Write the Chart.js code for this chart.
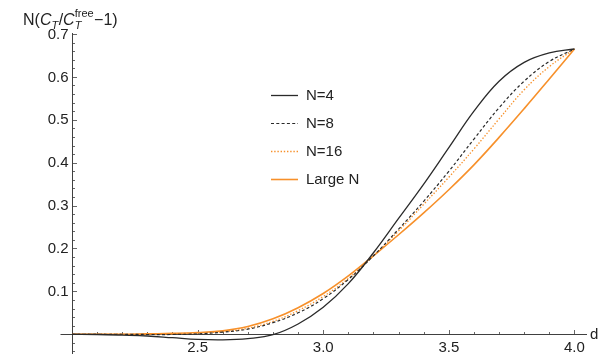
<!DOCTYPE html>
<html>
<head>
<meta charset="utf-8">
<script src="https://cdn.jsdelivr.net/npm/chart.js@4.4.1/dist/chart.umd.min.js"></script>
<style>
  html, body { margin: 0; padding: 0; background: #fff; }
  #wrap { width: 609px; height: 354px; position: relative; }
</style>
</head>
<body>
<div id="wrap"><canvas id="myChart"></canvas></div>
<script>
// separation d
const dValues = [2.0, 2.1, 2.2, 2.3, 2.4, 2.5, 2.6, 2.7, 2.8, 2.9, 3.0,
                 3.1, 3.2, 3.3, 3.4, 3.5, 3.6, 3.7, 3.8, 3.9, 4.0];

// N (C_T / C_T^free - 1)
const n4 = [0, -0.0005, -0.002, -0.004, -0.008, -0.012, -0.013, -0.010, -0.001, 0.024, 0.063,
            0.118, 0.190, 0.270, 0.350, 0.435, 0.520, 0.590, 0.634, 0.656, 0.665];
const n8 = [0, 0, 0, -0.0005, -0.0005, 0.001, 0.005, 0.012, 0.027, 0.050, 0.083,
            0.128, 0.183, 0.245, 0.310, 0.380, 0.455, 0.528, 0.590, 0.636, 0.665];
const n16 = [0, 0, 0, 0, 0.001, 0.003, 0.006, 0.014, 0.030, 0.055, 0.088,
             0.130, 0.183, 0.241, 0.303, 0.366, 0.432, 0.502, 0.570, 0.624, 0.665];
const largeN = [0, 0, 0, 0.001, 0.002, 0.004, 0.008, 0.018, 0.036, 0.062, 0.095,
                0.136, 0.183, 0.232, 0.283, 0.337, 0.395, 0.459, 0.526, 0.595, 0.665];

const seriesLabels = ['N=4', 'N=8', 'N=16', 'Large N'];
const xTickLabels = [2.5, 3.0, 3.5, 4.0];
const yTickLabels = [0.1, 0.2, 0.3, 0.4, 0.5, 0.6, 0.7];

const FONT = '"Liberation Sans", Arial, sans-serif';
const AXIS_COLOR = '#404040';
const TEXT_COLOR = '#222';
const ORANGE = '#f7902a';

const toPoints = vals => dValues.map((d, i) => ({ x: d, y: vals[i] }));

// Mathematica-style axes crossing at (2, 0), ticks pointing inward
const axesPlugin = {
    id: 'mmaAxes',
    beforeDatasetsDraw(chart) {
        const { ctx, scales: { x, y } } = chart;
        const x0 = Math.round(x.getPixelForValue(2.0)) + 0.5;
        const y0 = Math.round(y.getPixelForValue(0)) + 0.5;
        ctx.save();
        ctx.strokeStyle = AXIS_COLOR;
        ctx.lineWidth = 1;
        ctx.beginPath();
        ctx.moveTo(x0 - 12, y0);
        ctx.lineTo(x.right, y0);
        ctx.moveTo(x0, y.getPixelForValue(0.7) - 1);
        ctx.lineTo(x0, chart.height);
        ctx.stroke();

        ctx.lineWidth = 0.8;
        ctx.beginPath();
        for (let k = 21; k <= 40; k++) {
            const px = Math.round(x.getPixelForValue(k / 10)) + 0.5;
            const len = k % 5 === 0 ? 4.5 : 2.5;
            ctx.moveTo(px, y0);
            ctx.lineTo(px, y0 - len);
        }
        for (let k = -2; k <= 35; k++) {
            if (k === 0) continue;
            const py = Math.round(y.getPixelForValue(k * 0.02)) + 0.5;
            const len = k % 5 === 0 ? 4.5 : 2.5;
            ctx.moveTo(x0, py);
            ctx.lineTo(x0 + len, py);
        }
        ctx.stroke();

        ctx.fillStyle = TEXT_COLOR;
        ctx.font = '15px ' + FONT;
        ctx.textAlign = 'center';
        ctx.textBaseline = 'top';
        xTickLabels.forEach(v => {
            ctx.fillText(v.toFixed(1), x.getPixelForValue(v), y0 + 6);
        });
        ctx.textAlign = 'right';
        ctx.textBaseline = 'middle';
        yTickLabels.forEach(v => {
            ctx.fillText(v.toFixed(1), x0 - 4, y.getPixelForValue(v) + 0.5);
        });

        // axis labels
        ctx.textAlign = 'left';
        ctx.textBaseline = 'alphabetic';
        ctx.fillText('d', 590, 339);

        let cx = 23;
        const base = 25;
        const put = (txt, font, dy) => {
            ctx.font = font;
            ctx.fillText(txt, cx, base + dy);
            return ctx.measureText(txt).width;
        };
        const big = '16px ' + FONT;
        const bigI = 'italic 16px ' + FONT;
        const small = '11px ' + FONT;
        const smallI = 'italic 11px ' + FONT;
        cx += put('N(', big, 0);
        cx += put('C', bigI, 0);
        cx += put('T', smallI, 4) + 0.5;
        cx += put('/', big, 0);
        cx += put('C', bigI, 0);
        const tw = put('T', smallI, 4);
        const fw = put('free', small, -8);
        cx += Math.max(tw, fw) + 0.5;
        cx += put('\u2212', big, 0);
        put('1)', big, 0);
        ctx.restore();
    },
    afterDraw(chart) {
        const { ctx } = chart;
        const rows = [95, 123, 151, 179];
        ctx.save();
        ctx.font = '15px ' + FONT;
        ctx.textBaseline = 'middle';
        ctx.textAlign = 'left';
        chart.data.datasets.forEach((ds, i) => {
            const yy = rows[i] + 0.5;
            ctx.strokeStyle = ds.borderColor;
            ctx.lineWidth = ds.borderWidth;
            ctx.setLineDash(ds.borderDash || []);
            ctx.beginPath();
            ctx.moveTo(271, yy);
            ctx.lineTo(298, yy);
            ctx.stroke();
            ctx.setLineDash([]);
            ctx.fillStyle = TEXT_COLOR;
            ctx.fillText(ds.label, 306, yy);
        });
        ctx.restore();
    }
};

const container = document.getElementById('myChart');

new Chart(container, {
    type: 'line',
    data: {
        datasets: [
            { label: seriesLabels[0], data: toPoints(n4), borderColor: '#2a2a2a', borderWidth: 1.3 },
            { label: seriesLabels[1], data: toPoints(n8), borderColor: '#2a2a2a', borderWidth: 1.2, borderDash: [3, 2.3] },
            { label: seriesLabels[2], data: toPoints(n16), borderColor: ORANGE, borderWidth: 1.3, borderDash: [1.4, 1.8] },
            { label: seriesLabels[3], data: toPoints(largeN), borderColor: ORANGE, borderWidth: 1.6 }
        ]
    },
    options: {
        responsive: true,
        maintainAspectRatio: false,
        animation: false,
        layout: { padding: { left: 72, right: 22, top: 34, bottom: 0 } },
        elements: {
            point: { radius: 0 },
            line: { tension: 0.4, fill: false }
        },
        scales: {
            x: { type: 'linear', min: 2.0, max: 4.05, display: false },
            y: { type: 'linear', min: -0.046, max: 0.7, display: false }
        },
        plugins: {
            legend: { display: false },
            title: { display: false },
            tooltip: { enabled: false }
        }
    },
    plugins: [axesPlugin]
});
</script>
</body>
</html>
